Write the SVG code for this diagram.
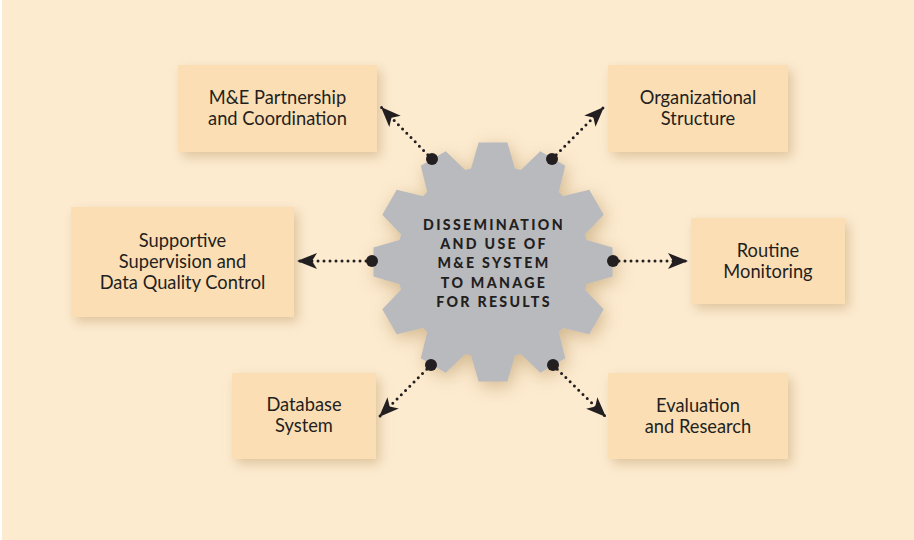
<svg xmlns="http://www.w3.org/2000/svg" width="914" height="540" viewBox="0 0 914 540">
<style>
.box{fill:#fcdeb4}
.lbl{font-family:Lato,"Open Sans",sans-serif;font-size:18.3px;fill:#231f20;text-anchor:middle}
.gt{font-family:Lato,"Open Sans",sans-serif;font-weight:900;font-size:14.2px;letter-spacing:2.3px;fill:#231f20;text-anchor:middle}
.con{stroke:#231f20;stroke-width:3;stroke-dasharray:0 6;stroke-linecap:round;fill:none;marker-end:url(#ah)}
.dot{fill:#231f20}
</style>
<defs>
<filter id="sh" x="-20%" y="-20%" width="150%" height="150%">
<feGaussianBlur in="SourceAlpha" stdDeviation="6"/>
<feOffset dx="4" dy="5" result="b"/>
<feFlood flood-color="#b8955f" flood-opacity="0.45"/>
<feComposite in2="b" operator="in"/>
<feMerge><feMergeNode/><feMergeNode in="SourceGraphic"/></feMerge>
</filter>
<filter id="gsh" x="-25%" y="-25%" width="150%" height="150%">
<feGaussianBlur in="SourceAlpha" stdDeviation="9"/>
<feOffset dx="3" dy="5" result="b"/>
<feFlood flood-color="#a88650" flood-opacity="0.5"/>
<feComposite in2="b" operator="in"/>
<feMerge><feMergeNode/><feMergeNode in="SourceGraphic"/></feMerge>
</filter>
<marker id="ah" markerUnits="userSpaceOnUse" markerWidth="22" markerHeight="18" refX="20" refY="8" orient="auto"><path d="M0,0 L20,8 L0,16 L5,8 Z" fill="#231f20"/></marker>
<path id="tooth" d="M-24.7,-84 L-14.4,-119.5 L14.4,-119.5 L24.7,-84 Z"/>
</defs>
<rect x="0" y="0" width="914" height="540" fill="#ffffff"/>
<rect x="2" y="0" width="912" height="540" fill="#fdebd0"/>

<g id="gear" filter="url(#gsh)">
<g transform="translate(493,262)" fill="#b8babe">
<circle r="96"/>
<use href="#tooth"/>
<use href="#tooth" transform="rotate(30)"/>
<use href="#tooth" transform="rotate(60)"/>
<use href="#tooth" transform="rotate(90)"/>
<use href="#tooth" transform="rotate(120)"/>
<use href="#tooth" transform="rotate(150)"/>
<use href="#tooth" transform="rotate(180)"/>
<use href="#tooth" transform="rotate(210)"/>
<use href="#tooth" transform="rotate(240)"/>
<use href="#tooth" transform="rotate(270)"/>
<use href="#tooth" transform="rotate(300)"/>
<use href="#tooth" transform="rotate(330)"/>
</g>
</g>
<g id="gear-text">
<text class="gt" x="494" y="230">DISSEMINATION</text>
<text class="gt" x="494" y="249">AND USE OF</text>
<text class="gt" x="494" y="268">M&amp;E SYSTEM</text>
<text class="gt" x="494" y="288">TO MANAGE</text>
<text class="gt" x="494" y="307">FOR RESULTS</text>
</g>

<g id="n-partnership">
<rect class="box" x="178" y="65" width="199" height="87" filter="url(#sh)"/>
<text class="lbl" x="277.5" y="104">M&amp;E Partnership</text>
<text class="lbl" x="277.5" y="125">and Coordination</text>
</g>
<g id="n-org">
<rect class="box" x="608" y="65" width="180" height="87" filter="url(#sh)"/>
<text class="lbl" x="698" y="104">Organizational</text>
<text class="lbl" x="698" y="125">Structure</text>
</g>
<g id="n-supportive">
<rect class="box" x="71" y="207" width="223" height="110" filter="url(#sh)"/>
<text class="lbl" x="182.5" y="247">Supportive</text>
<text class="lbl" x="182.5" y="268">Supervision and</text>
<text class="lbl" x="182.5" y="289">Data Quality Control</text>
</g>
<g id="n-routine">
<rect class="box" x="691" y="218" width="154" height="86" filter="url(#sh)"/>
<text class="lbl" x="768" y="257">Routine</text>
<text class="lbl" x="768" y="278">Monitoring</text>
</g>
<g id="n-database">
<rect class="box" x="232" y="373" width="144" height="86" filter="url(#sh)"/>
<text class="lbl" x="304" y="411">Database</text>
<text class="lbl" x="304" y="432">System</text>
</g>
<g id="n-evaluation">
<rect class="box" x="608" y="373" width="180" height="86" filter="url(#sh)"/>
<text class="lbl" x="698" y="412">Evaluation</text>
<text class="lbl" x="698" y="433">and Research</text>
</g>

<g id="connectors">
<line class="con" x1="432" y1="159" x2="381" y2="107"/>
<line class="con" x1="552" y1="159" x2="604" y2="107"/>
<line class="con" x1="372" y1="261" x2="297" y2="261"/>
<line class="con" x1="613" y1="261" x2="688" y2="261"/>
<line class="con" x1="431" y1="365" x2="379" y2="417"/>
<line class="con" x1="553" y1="365" x2="606" y2="417"/>
<circle class="dot" cx="432" cy="159" r="6"/>
<circle class="dot" cx="552" cy="159" r="6"/>
<circle class="dot" cx="372" cy="261" r="6"/>
<circle class="dot" cx="613" cy="261" r="6"/>
<circle class="dot" cx="431" cy="365" r="6"/>
<circle class="dot" cx="553" cy="365" r="6"/>
</g>
</svg>
